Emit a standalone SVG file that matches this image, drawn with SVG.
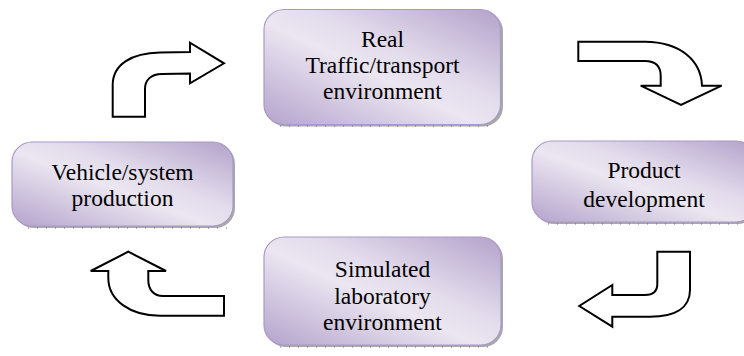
<svg xmlns="http://www.w3.org/2000/svg" width="744" height="356" viewBox="0 0 744 356">
<style>
.box{fill:url(#g);stroke:#a999c6;stroke-width:1.2}
.sh{fill:#a8a8a8}
.tick{stroke:#6e6e6e;stroke-width:1;stroke-dasharray:1 8}
.t{font-family:'Liberation Serif','Times New Roman','DejaVu Serif',serif;font-size:23.5px;fill:#000;text-anchor:middle}
.arr{fill:#fff;stroke:#000;stroke-width:2;stroke-linejoin:miter}
</style>
<defs>
<linearGradient id="g" x1="0" y1="1" x2="1" y2="0">
<stop offset="0" stop-color="#b4a3cc"/>
<stop offset="0.45" stop-color="#ebe6f1"/>
<stop offset="0.6" stop-color="#e3dcec"/>
<stop offset="1" stop-color="#b3a2ca"/>
</linearGradient>
</defs>
<rect width="744" height="356" fill="#fff"/>
<g id="connectors">
<path class="arr" d="M112.7,116.7 L112.7,85 C112.7,64 132,53 160,52.5 L190,52 L190,42.7 L224,63.3 L190,83.3 L190,73.5 L162,74 C151,74 145,80 145,89 L145,116.7 Z"/>
<path class="arr" d="M578.3,41.7 L645,41.7 C680,42 701,60 702,85.7 L721.7,85.7 L681,105 L640.7,85.7 L660.7,85.7 L660.7,76 C660.7,66 655,61 645,61 L578.3,61 Z"/>
<path class="arr" d="M657.3,251.7 L690,251.7 L690,290 C690,308 675,316.7 650,316.7 L612.3,316.7 L612.3,326.7 L579.3,306 L612.3,285 L612.3,295 L645,295 C652,295 657.3,292 657.3,284 Z"/>
<path class="arr" d="M128.3,251.7 L166,271 L148.3,271 L148.3,280 C148.3,290 154,296 163,296 L224,296 L224,315.7 L160,315.7 C130,315.7 108.3,300 108.3,278 L108.3,271 L90.7,271 Z"/>
</g>
<g id="node-real">
<rect class="sh" x="266" y="11.5" width="237" height="115" rx="20"/>
<line class="tick" x1="280" y1="126" x2="495" y2="126"/>
<rect class="box" x="264" y="9.5" width="236.5" height="115" rx="20"/>
<text class="t" font-family="Liberation Serif, Times New Roman, DejaVu Serif, serif" x="382.5" y="46.7">Real</text>
<text class="t" font-family="Liberation Serif, Times New Roman, DejaVu Serif, serif" x="382.5" y="73">Traffic/transport</text>
<text class="t" font-family="Liberation Serif, Times New Roman, DejaVu Serif, serif" x="382.5" y="99.3">environment</text>
</g>
<g id="node-product">
<rect class="sh" x="534" y="143" width="224" height="81" rx="20"/>
<line class="tick" x1="548" y1="224" x2="744" y2="224"/>
<rect class="box" x="532" y="141" width="224" height="81" rx="20"/>
<text class="t" font-family="Liberation Serif, Times New Roman, DejaVu Serif, serif" x="644" y="178">Product</text>
<text class="t" font-family="Liberation Serif, Times New Roman, DejaVu Serif, serif" x="644" y="207">development</text>
</g>
<g id="node-vehicle">
<rect class="sh" x="14" y="144" width="221" height="84" rx="20"/>
<line class="tick" x1="28" y1="228" x2="228" y2="228"/>
<rect class="box" x="12" y="142" width="221" height="84" rx="20"/>
<text class="t" font-family="Liberation Serif, Times New Roman, DejaVu Serif, serif" x="122.5" y="180">Vehicle/system</text>
<text class="t" font-family="Liberation Serif, Times New Roman, DejaVu Serif, serif" x="122.5" y="205.5">production</text>
</g>
<g id="node-simulated">
<rect class="sh" x="266" y="239" width="237" height="108" rx="20"/>
<line class="tick" x1="280" y1="347" x2="495" y2="347"/>
<rect class="box" x="264" y="237" width="237" height="108" rx="20"/>
<text class="t" font-family="Liberation Serif, Times New Roman, DejaVu Serif, serif" x="382.5" y="277">Simulated</text>
<text class="t" font-family="Liberation Serif, Times New Roman, DejaVu Serif, serif" x="382.5" y="303.5">laboratory</text>
<text class="t" font-family="Liberation Serif, Times New Roman, DejaVu Serif, serif" x="382.5" y="330">environment</text>
</g>
</svg>
